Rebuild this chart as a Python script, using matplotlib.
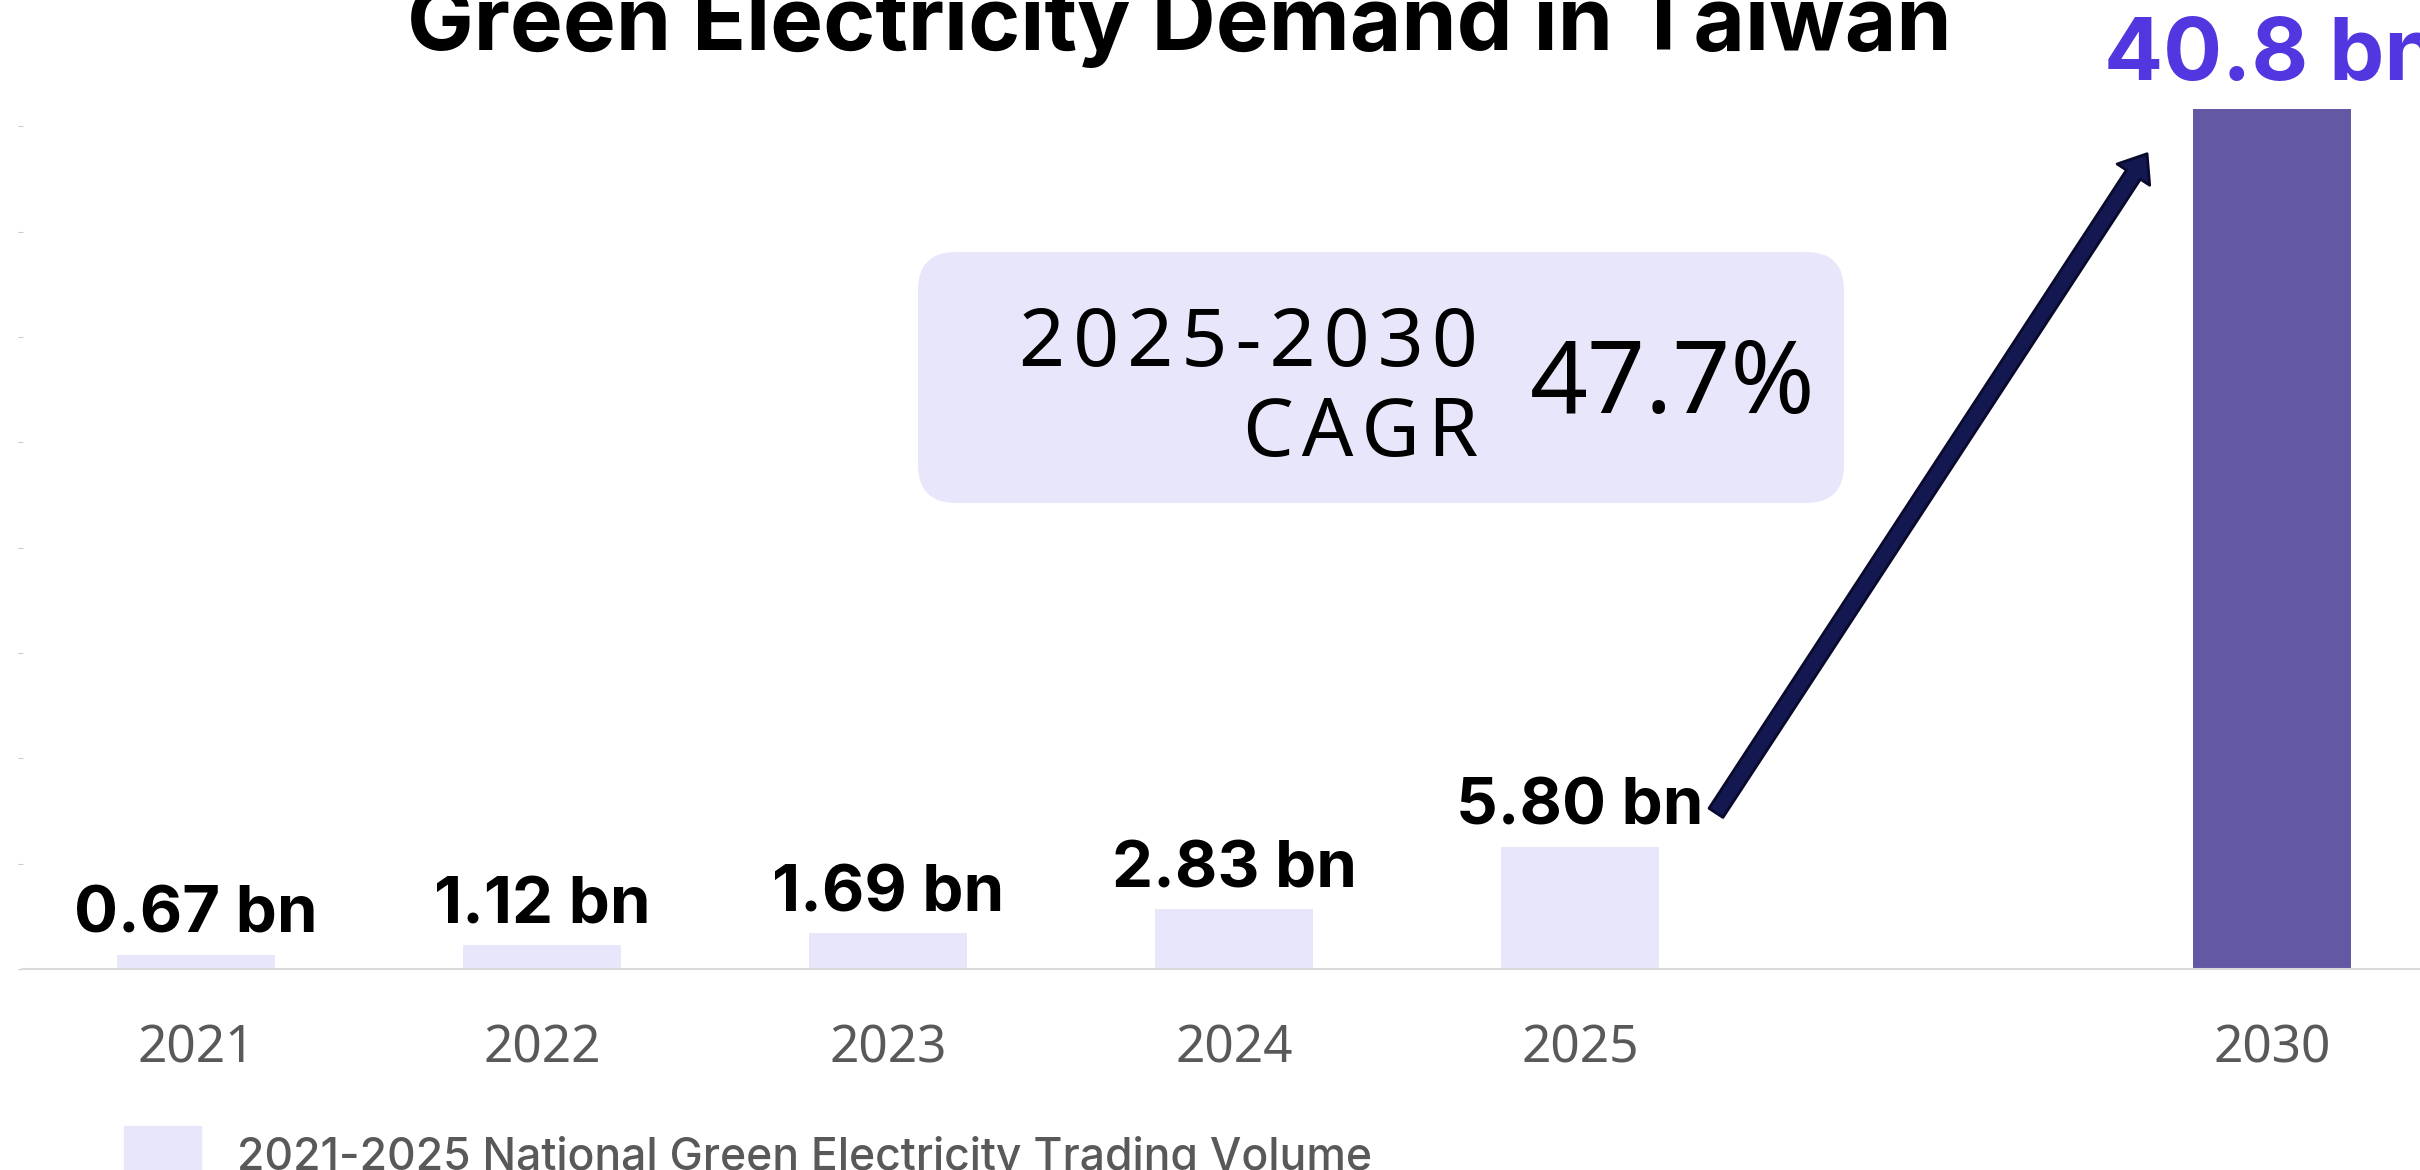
import matplotlib
matplotlib.use('Agg')
import matplotlib.pyplot as plt
from matplotlib.patches import FancyBboxPatch, Rectangle
from matplotlib.transforms import IdentityTransform

# data
years = ['2021', '2022', '2023', '2024', '2025', '2030']
positions = [0, 1, 2, 3, 4, 6]   # gap left between 2025 and 2030
volumes = [0.67, 1.12, 1.69, 2.83, 5.80, 40.8]
value_labels = ['0.67 bn', '1.12 bn', '1.69 bn', '2.83 bn', '5.80 bn', '40.8 bn']
cagr_period = '2025-2030'
cagr_text = 'CAGR'
cagr_value = '47.7%'
title = 'Green Electricity Demand in Taiwan'
legend_label = '2021-2025 National Green Electricity Trading Volume'

W, H = 2420, 1170
light = '#e8e6fa'
dark = '#6258a4'
gray = '#595959'

fig = plt.figure(figsize=(W / 100, H / 100), dpi=100)
ax = fig.add_axes([23 / W, 201 / H, 2422 / W, 948 / H])

colors = [light] * 5 + [dark]
ax.bar(positions, volumes, width=0.455, color=colors)
ax.set_xlim(-0.5, 6.5)
ax.set_ylim(0, 45)

for s in ['top', 'right', 'left']:
    ax.spines[s].set_visible(False)
ax.spines['bottom'].set_color('#d9d9d9')
ax.spines['bottom'].set_linewidth(1.5)

ax.set_yticks(range(0, 45, 5))
ax.tick_params(axis='y', length=3.5, width=0.8, color='#cccccc', labelleft=False)
ax.set_xticks(positions, years)
ax.tick_params(axis='x', length=0, pad=39, labelsize=37, labelcolor=gray)
for t in ax.get_xticklabels():
    t.set_family('Noto Sans')

# value labels over the bars
for i in range(len(volumes)):
    if years[i] == '2030':
        ax.annotate(value_labels[i], (positions[i], volumes[i]), xytext=(0, 21),
                    textcoords='offset points', ha='center', va='baseline',
                    fontsize=63, fontweight='bold', family='Inter', color='#5236e0')
    else:
        ax.annotate(value_labels[i], (positions[i], volumes[i]), xytext=(0, 16),
                    textcoords='offset points', ha='center', va='baseline',
                    fontsize=47, fontweight='bold', family='Inter', color='black')

# growth arrow from 2025 towards 2030
ax.annotate('', xy=(5.639, 38.7), xytext=(4.393, 7.41),
            arrowprops=dict(arrowstyle='simple,head_length=0.9,head_width=1.4,tail_width=0.6',
                            mutation_scale=20, fc='#141850', ec='#0a0a2e', lw=2,
                            shrinkA=0, shrinkB=0))

# CAGR box, the small text is letter spaced with hair spaces
spaced = lambda s: '\u200a'.join(s)
box = FancyBboxPatch((918, H - 503), 926, 251, boxstyle='round,pad=0,rounding_size=38',
                     transform=IdentityTransform(), fc=light, ec='none')
fig.add_artist(box)
fig.text(1478 / W, (H - 366) / H, spaced(cagr_period), ha='right', va='baseline',
         fontsize=58, family=['Noto Sans', 'DejaVu Sans'], color='black')
fig.text(1478 / W, (H - 456) / H, spaced(cagr_text), ha='right', va='baseline',
         fontsize=58, family=['Noto Sans', 'DejaVu Sans'], color='black')
fig.text(1530 / W, (H - 413) / H, cagr_value, ha='left', va='baseline',
         fontsize=73, family='Noto Sans', fontweight='medium', color='black')

# title
fig.text(1179 / W, 1 - 50 / H, title, ha='center', va='baseline',
         fontsize=64, fontweight='bold', family='Inter')

# legend
fig.add_artist(Rectangle((124 / W, (H - 1203) / H), 77 / W, 77 / H,
                         transform=fig.transFigure, color=light))
fig.text(237 / W, 0, legend_label, ha='left', va='baseline',
         fontsize=32, family='Inter', fontweight='medium', color=gray)

fig.savefig('out.png', dpi=100)
